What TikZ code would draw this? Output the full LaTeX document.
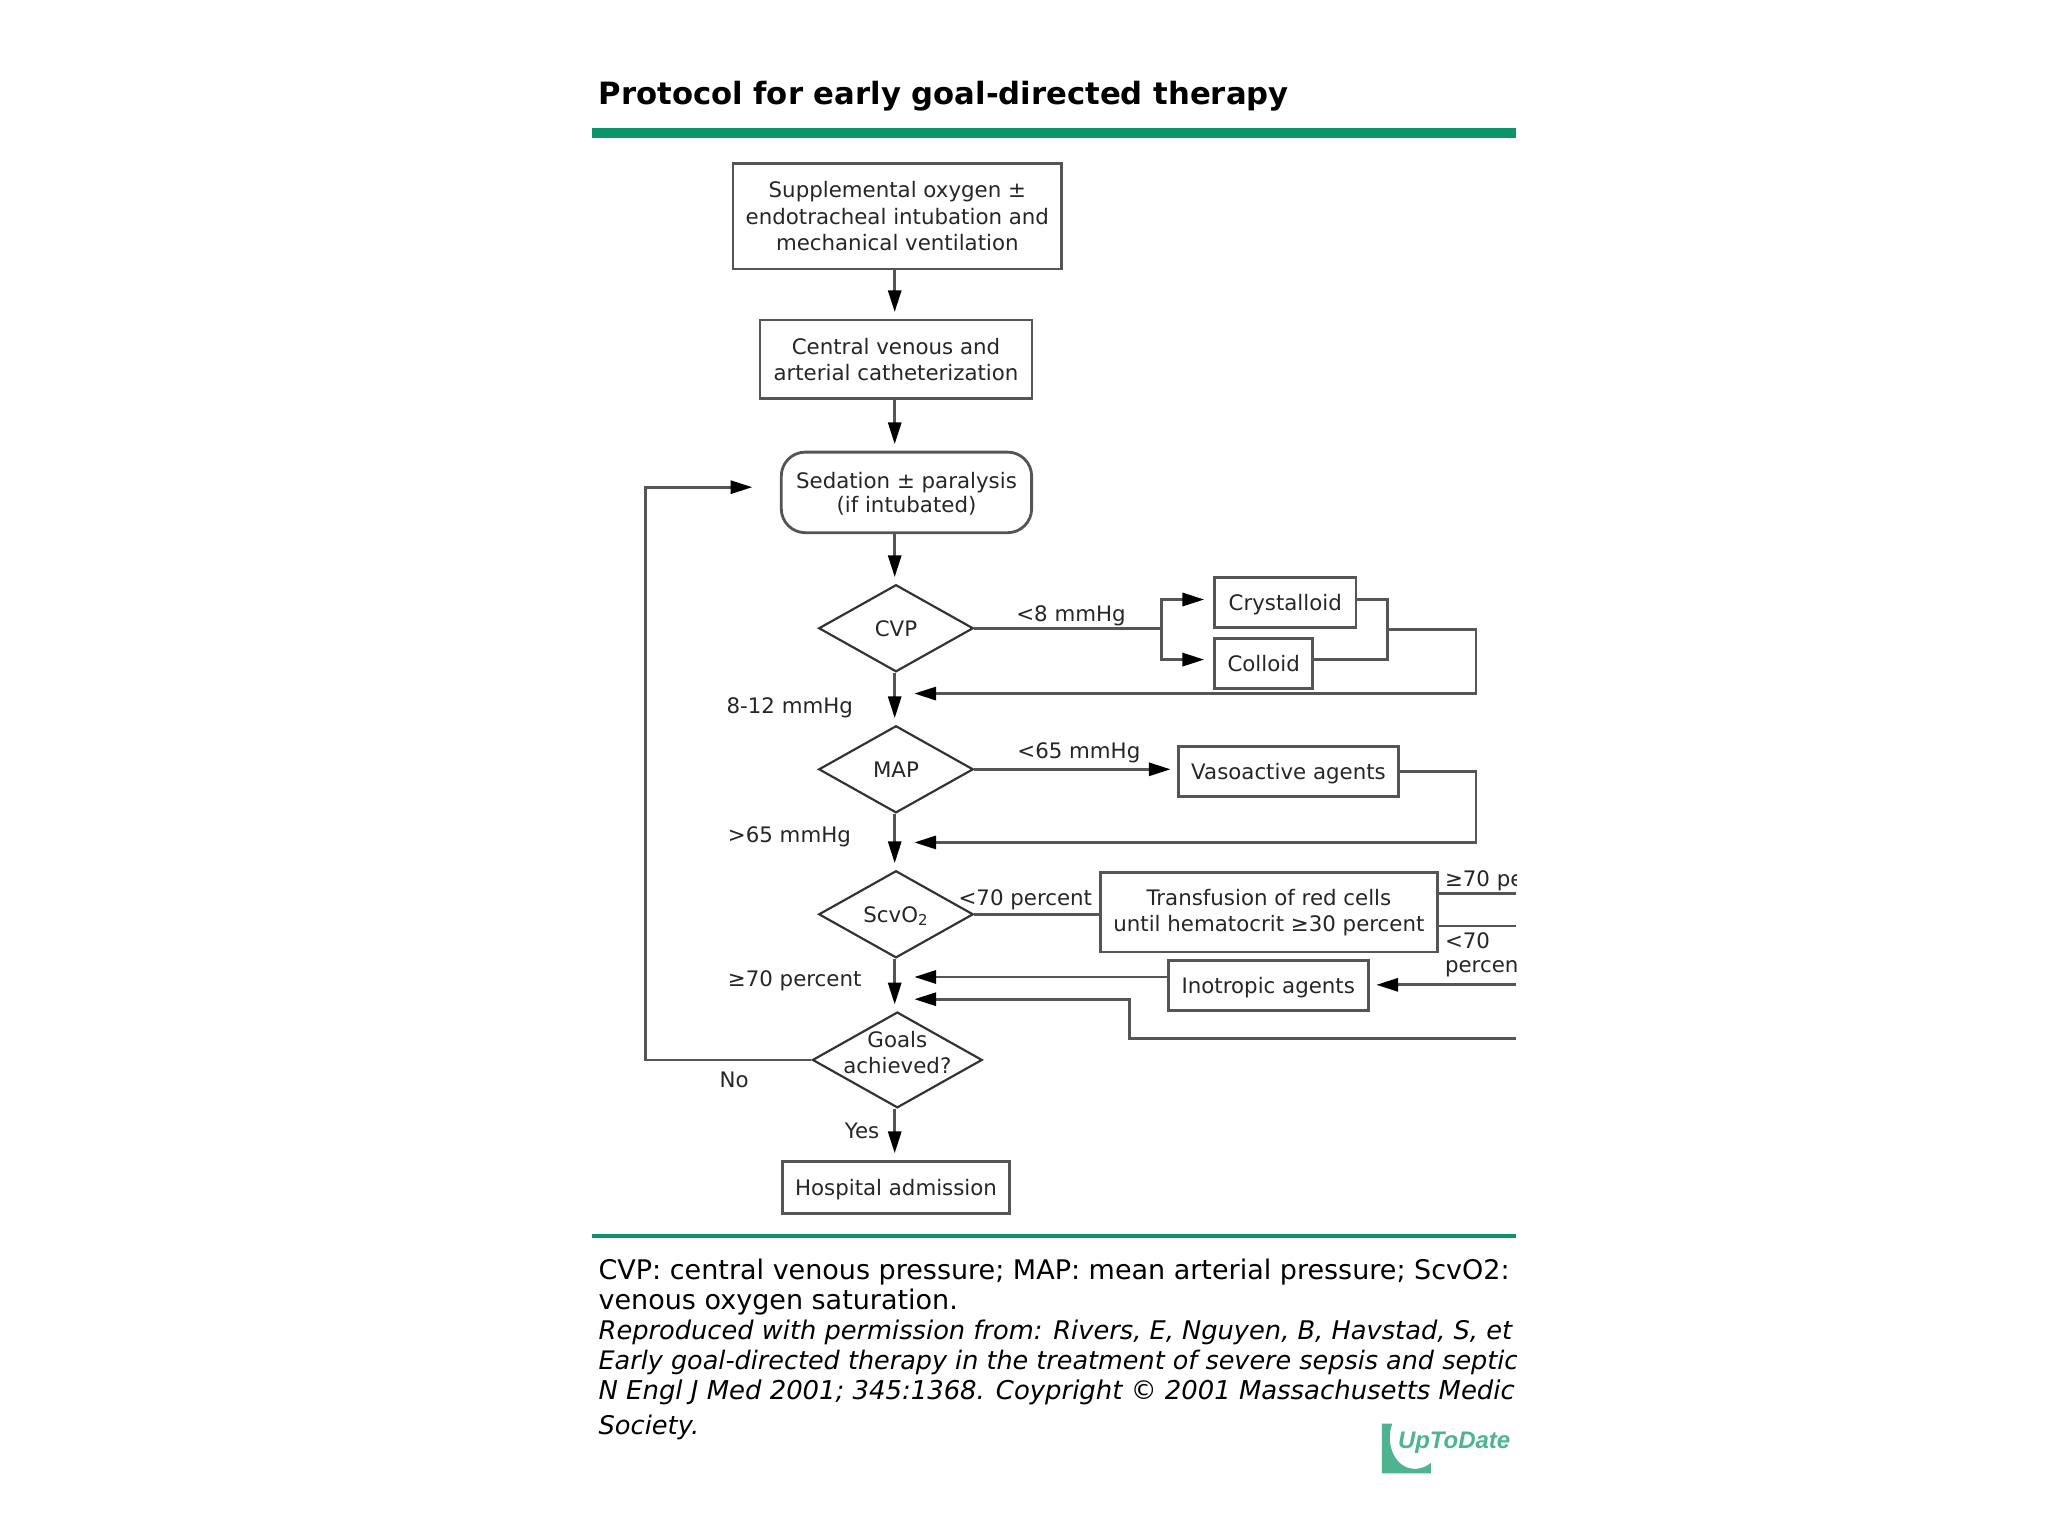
\documentclass[tikz,border=0pt]{standalone}
\usepackage{fontspec}
\usepackage{tikz}
\usetikzlibrary{arrows.meta,shapes.geometric}
\setmainfont{DejaVu Sans}
\newfontfamily\logofont{Liberation Sans}
\definecolor{rulegreen}{HTML}{0B9469}
\definecolor{logogreen}{HTML}{4DB48F}
\definecolor{linegray}{HTML}{555555}
\tikzset{
  boxnode/.style={draw=linegray,line width=1.3pt,inner sep=0pt,align=center,text=black!85,font=\fontsize{9.8}{12}\selectfont},
  roundnode/.style={boxnode,rounded corners=11pt},
  decision/.style={draw=black!80,line width=1pt,diamond,aspect=1.8,inner sep=-8pt,align=center,text=black!85,text depth=-1.5pt,font=\fontsize{9.8}{12}\selectfont},
  tag/.style={inner sep=0pt,text depth=0pt,text=black!85,font=\fontsize{9.8}{12}\selectfont},
  captionline/.style={inner sep=0pt,anchor=west,text depth=0pt,font=\fontsize{12.4}{13}\selectfont},
  italicline/.style={captionline,font=\fontsize{11.8}{13}\selectfont\itshape},
  wire/.style={draw=linegray,line width=1.3pt},
  flow/.style={wire,-{Triangle[black,length=10pt,width=6pt]},shorten >=3pt}
}
\begin{document}
\begin{tikzpicture}[x=0.6pt,y=-0.6pt]
  \useasboundingbox (0,0) rectangle (1568,1176);
  \node[inner sep=0pt,anchor=west,text depth=0pt,font=\fontsize{14.1}{15}\selectfont\bfseries] (title) at (458,71) {Protocol for early goal-directed therapy};
  \fill[rulegreen] (453,98) rectangle (1161,106);
  \fill[rulegreen] (453,945) rectangle (1161,948);

  \coordinate (spine) at (685,0);
  \node[boxnode,minimum width=151pt,minimum height=48.5pt] (oxygen) at (687,165.5) {Supplemental oxygen ±\\endotracheal intubation and\\mechanical ventilation};
  \node[boxnode,minimum width=125pt,minimum height=36pt] (lines) at (686,275) {Central venous and\\arterial catheterization};
  \node[roundnode,minimum width=115pt,minimum height=37pt,text depth=0pt,font=\fontsize{9.8}{11}\selectfont] (sedation) at (694,377) {Sedation ± paralysis\\(if intubated)};
  \node[decision,minimum width=71pt,minimum height=40pt] (cvp) at (686,481) {CVP};
  \node[decision,minimum width=71pt,minimum height=40pt] (map) at (686,589) {MAP};
  \node[decision,minimum width=71pt,minimum height=40pt] (scv) at (686,700) {ScvO\textsubscript{2}};
  \node[decision,text depth=0pt,minimum width=78pt,minimum height=44pt] (goals) at (687,811.5) {Goals\\achieved?\\[-4.8pt]\mbox{}};
  \node[boxnode,minimum width=104pt,minimum height=24pt,text depth=0pt] (admission) at (686,909) {Hospital admission};
  \node[boxnode,minimum width=65pt,minimum height=23pt,text depth=0pt] (crystalloid) at (984,461.5) {Crystalloid};
  \node[boxnode,minimum width=45pt,minimum height=23pt] (colloid) at (967.5,508) {Colloid};
  \node[boxnode,minimum width=101pt,minimum height=23pt,text depth=0pt] (vasoactive) at (986.5,590.5) {Vasoactive agents};
  \node[boxnode,minimum width=155pt,minimum height=36.5pt] (transfusion) at (971.5,698.5) {Transfusion of red cells\\until hematocrit ≥30 percent};
  \node[boxnode,minimum width=92pt,minimum height=23pt,text depth=0pt] (inotropic) at (971,754.5) {Inotropic agents};

  \draw[flow] (spine |- oxygen.south) -- (spine |- lines.north);
  \draw[flow] (spine |- lines.south) -- (spine |- sedation.north);
  \draw[flow] (spine |- sedation.south) -- (spine |- cvp.north);
  \draw[flow] (spine |- cvp.south) -- (spine |- map.north);
  \draw[flow] (spine |- map.south) -- (spine |- scv.north);
  \draw[flow] (spine |- scv.south) -- (spine |- goals.north);
  \draw[flow] (spine |- goals.south) -- (spine |- admission.north);

  \coordinate (loopbot) at (494,811.5);
  \coordinate (looptop) at (494,373);
  \coordinate (sedin) at (581,373);
  \draw[flow] (goals.west) -- (loopbot) -- (looptop) -- (sedin);

  \coordinate (split) at (889,481);
  \coordinate (crysin) at (927,459);
  \coordinate (collin) at (927,505);
  \draw[wire] (cvp.east) -- (split);
  \draw[flow] (split) -- (889,459) -- (crysin);
  \draw[flow] (split) -- (889,505) -- (collin);
  \coordinate (crysout) at (1038,459);
  \coordinate (collout) at (1005,505);
  \coordinate (merge) at (1062,482);
  \coordinate (cvpcorner) at (1130,531);
  \coordinate (cvpback) at (695,531);
  \draw[wire] (crysout) -- (1062,459) -- (1062,505) -- (collout);
  \draw[flow] (merge) -- (1130,482) -- (cvpcorner) -- (cvpback);

  \draw[flow] (map.east) -- (map.east -| vasoactive.west);
  \coordinate (mapcorner) at (1130,645);
  \coordinate (mapback) at (695,645);
  \draw[flow] (vasoactive.east) -- (1130,590.5) -- (mapcorner) -- (mapback);

  \draw[wire] (scv.east) -- (scv.east -| transfusion.west);
  \coordinate (edgehigh) at (1161,684);
  \coordinate (edgelow) at (1161,709);
  \coordinate (edgeino) at (1161,754);
  \coordinate (edgeret) at (1161,795);
  \coordinate (inoback) at (695,748);
  \coordinate (retback) at (695,765);
  \draw[wire] (transfusion.east |- edgehigh) -- (edgehigh);
  \draw[wire] (transfusion.east |- edgelow) -- (edgelow);
  \draw[flow] (edgeino) -- (inotropic.east |- edgeino);
  \draw[flow] (inotropic.west |- inoback) -- (inoback);
  \draw[flow] (edgeret) -- (865,795) -- (865,765) -- (retback);

  \node[tag] (lowcvp) at (820,470) {<8 mmHg};
  \node[tag,anchor=west] (okcvp) at (556,540) {8-12 mmHg};
  \node[tag] (lowmap) at (826,575) {<65 mmHg};
  \node[tag,anchor=west] (okmap) at (557,639) {>65 mmHg};
  \node[tag] (lowscv) at (785,687) {<70 percent};
  \node[tag,anchor=west] (okscv) at (557,749) {≥70 percent};
  \node[tag] (nogoal) at (562,827) {No};
  \node[tag] (yesgoal) at (660,866) {Yes};

  \begin{scope}
    \clip (0,0) rectangle (1161,1176);
    \node[tag,anchor=west] (highhct) at (1106,673) {≥70 pe};
    \node[tag,anchor=west] (lowhct) at (1106,720) {<70};
    \node[tag,anchor=west] (lowhcttwo) at (1106,740) {percen};
    \node[captionline] (capa) at (458,972) {CVP: central venous pressure; MAP: mean arterial pressure; ScvO2:};
    \node[captionline] (capb) at (458,995) {venous oxygen saturation.};
    \node[italicline] (capc) at (458,1018) {Reproduced with permission from: Rivers, E, Nguyen, B, Havstad, S, et};
    \node[italicline,font=\fontsize{11.7}{13}\selectfont\itshape] (capd) at (458,1041) {Early goal-directed therapy in the treatment of severe sepsis and septic};
    \node[italicline,font=\fontsize{11.9}{13}\selectfont\itshape] (cape) at (458,1064) {N Engl J Med 2001; 345:1368. Coypright © 2001 Massachusetts Medic};
    \node[italicline] (capf) at (458,1091) {Society.};
  \end{scope}

  \fill[logogreen] (1058,1090) -- (1066,1090) .. controls (1060,1105) and (1068,1126) .. (1085,1124.5) .. controls (1090,1124) and (1093,1122) .. (1095.5,1120) -- (1095.5,1128) -- (1058,1128) -- cycle;
  \node[inner sep=0pt,anchor=west,text=logogreen,text depth=0pt,font=\logofont\fontsize{11}{13}\selectfont\bfseries\itshape] (logo) at (1070,1103) {UpToDate};
\end{tikzpicture}
\end{document}
